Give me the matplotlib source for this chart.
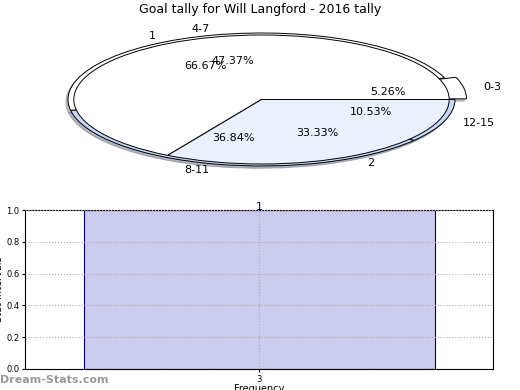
import matplotlib
matplotlib.use("Agg")
import matplotlib.pyplot as plt

# pie data
range_labels = ["0-3", "4-7", "8-11", "12-15"]
range_counts = [1, 9, 7, 2]
goal_labels = ["1", "2"]
goal_counts = [2, 1]

# bar data
freq_x = [3]
freq_y = [1]

fig = plt.figure(figsize=(5.2, 3.9), dpi=100)
fig.patch.set_facecolor("white")

W, H = 520.0, 390.0
ax1 = fig.add_axes([68 / W, 1 - 166 / H, 387 / W, 133 / H])
ax1.pie(range_counts, labels=range_labels, autopct="%.2f%%", startangle=0,
        counterclock=True, explode=[0.06, 0, 0, 0],
        colors=["white", "white", "#c6d8fb", "#c6d8fb"],
        wedgeprops=dict(edgecolor="black", linewidth=0.7),
        textprops=dict(fontsize=8),
        shadow=dict(ox=-0.008, oy=-0.025, shade=0.5),
        labeldistance=1.1, pctdistance=0.6)
ax1.pie(goal_counts, labels=goal_labels, autopct="%.2f%%", startangle=0,
        radius=0.97, colors=["white", "#eaf1fd"],
        wedgeprops=dict(edgecolor="black", linewidth=0.7),
        textprops=dict(fontsize=8), labeldistance=1.13, pctdistance=0.6)
ax1.set_aspect("auto")
ax1.set_xlim(-1, 1)
ax1.set_ylim(-1, 1)
ax1.axis("off")
fig.text(0.5, 1 - 10 / H, "Goal tally for Will Langford - 2016 tally",
         ha="center", va="center", fontsize=9)

ax2 = fig.add_axes([25 / W, 1 - 369 / H, 468 / W, 159 / H])
ax2.bar(freq_x, freq_y, width=0.75, color="#ccccee", edgecolor="navy", linewidth=0.8)
for x, y in zip(freq_x, freq_y):
    ax2.text(x, y + 0.02, str(y), ha="center", va="center", color="navy", fontsize=8)
ax2.set_xlim(2.5, 3.5)
ax2.set_ylim(0, 1)
ax2.set_xticks(freq_x)
ax2.set_yticks([0, 0.2, 0.4, 0.6, 0.8, 1.0])
ax2.tick_params(labelsize=6, length=2, pad=2)
ax2.grid(True, linestyle=":", color="#aaaaaa", linewidth=0.8)
ax2.set_axisbelow(False)
ax2.set_xlabel("Frequency", fontsize=7, labelpad=0)
ax2.set_ylabel("Stat Intervals", fontsize=7)
ax2.yaxis.set_label_coords(-21 / 468, 0.5)

fig.text(0, 1 - 380 / H, "Dream-Stats.com", fontsize=8, color="#999999",
         ha="left", va="center", fontweight="bold")

fig.savefig("out.png", dpi=100)
